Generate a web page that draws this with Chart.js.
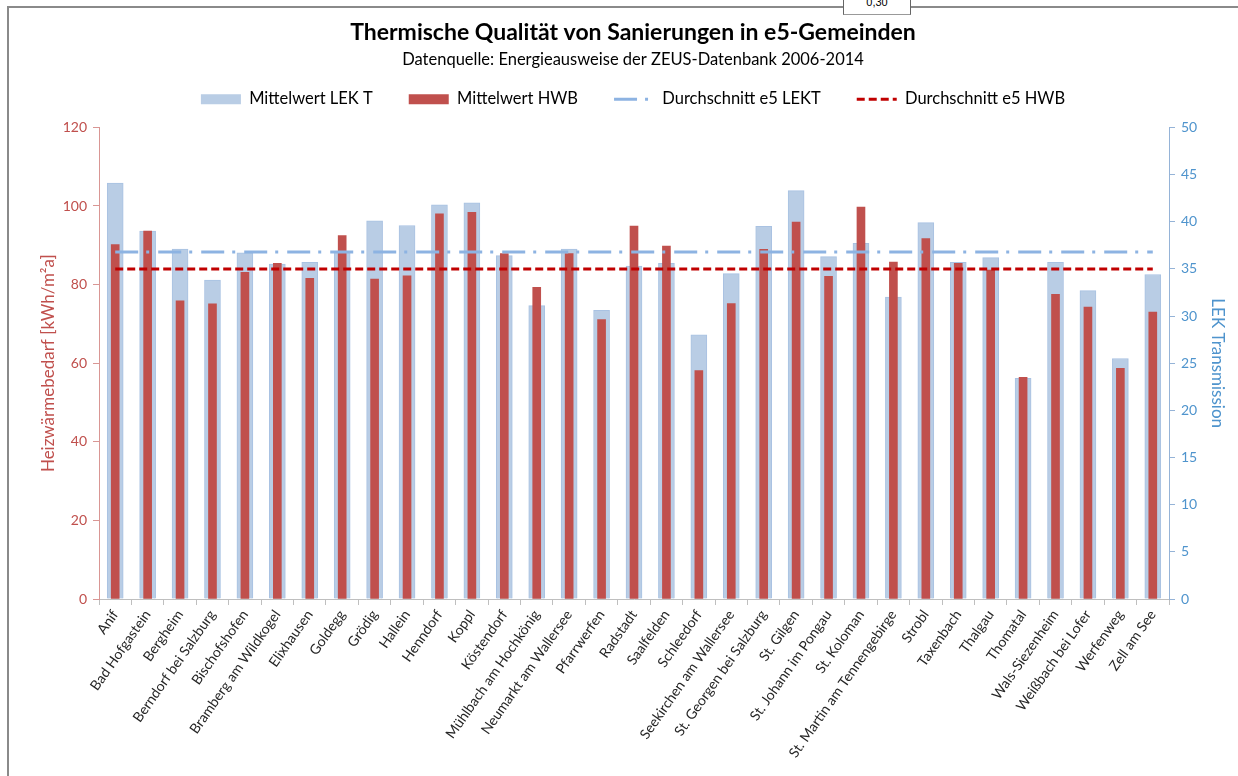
<!DOCTYPE html>
<html>
<head>
<meta charset="utf-8">
<script src="https://cdn.jsdelivr.net/npm/chart.js@4"></script>
<style>
    html, body { margin: 0; padding: 0; background: #fff; }
    #wrap { position: relative; width: 1238px; height: 776px; overflow: hidden; }
    #frame { position: absolute; left: 7px; top: 6px; right: -4px; bottom: -4px; border-left: 2px solid #8a8a8a; border-top: 2px solid #8a8a8a; }
    #cell { position: absolute; left: 843px; top: -2px; width: 66px; height: 16px; border-left: 1px solid #666; border-right: 1px solid #666; border-bottom: 1px solid #999; background: #fff;
            font: 11px 'Liberation Sans', sans-serif; color: #000; text-align: center; line-height: 8px; overflow: hidden; }
    canvas { position: absolute; left: 0; top: 0; }
</style>
</head>
<body>
<div id="wrap">
    <div id="frame"></div>
    <div id="cell">0,30</div>
    <canvas id="chart" width="1238" height="776"></canvas>
</div>
<script>
// Gemeinden (x-Achse)
const gemeinden = [
    'Anif', 'Bad Hofgastein', 'Bergheim', 'Berndorf bei Salzburg', 'Bischofshofen',
    'Bramberg am Wildkogel', 'Elixhausen', 'Goldegg', 'Grödig', 'Hallein', 'Henndorf',
    'Koppl', 'Köstendorf', 'Mühlbach am Hochkönig', 'Neumarkt am Wallersee', 'Pfarrwerfen',
    'Radstadt', 'Saalfelden', 'Schleedorf', 'Seekirchen am Wallersee', 'St. Georgen bei Salzburg',
    'St. Gilgen', 'St. Johann im Pongau', 'St. Koloman', 'St. Martin am Tennengebirge', 'Strobl',
    'Taxenbach', 'Thalgau', 'Thomatal', 'Wals-Siezenheim', 'Weißbach bei Lofer', 'Werfenweg', 'Zell am See'
];

// Mittelwert LEK T (rechte Achse)
const lekT = [
    44.1, 39.0, 37.1, 33.8, 36.7, 35.5, 35.7, 36.8, 40.1, 39.6, 41.8,
    42.0, 36.4, 31.1, 37.1, 30.6, 35.3, 35.6, 28.0, 34.5, 39.5,
    43.3, 36.3, 37.7, 32.0, 39.9, 35.7, 36.2, 23.4, 35.7, 32.7, 25.5, 34.4
];

// Mittelwert HWB (linke Achse, kWh/m²a)
const hwb = [
    90.2, 93.6, 75.9, 75.1, 83.1, 85.4, 81.6, 92.5, 81.4, 82.2, 98.0,
    98.4, 87.9, 79.3, 87.9, 71.1, 94.9, 89.8, 58.1, 75.2, 89.0,
    95.9, 82.1, 99.7, 85.7, 91.7, 85.4, 83.7, 56.4, 77.5, 74.3, 58.7, 73.0
];

// Durchschnittswerte e5
const avgLekT = 36.8;
const avgHwb = 84;

const leftTicks = { min: 0, max: 120, step: 20 };
const rightTicks = { min: 0, max: 50, step: 5 };

const FONT = 'Lato, "Open Sans", sans-serif';
const RED = '#c0504d';
const BLUE = '#4f94cd';

// etwas Abstand unter der Legende
const legendMargin = {
    id: 'legendMargin',
    beforeInit(chart) {
        const fit = chart.legend.fit;
        chart.legend.fit = function () {
            fit.call(this);
            this.height += 10;
        };
    }
};

const ctx = document.getElementById('chart').getContext('2d');

new Chart(ctx, {
    data: {
        labels: gemeinden,
        datasets: [
            {
                type: 'bar',
                label: 'Mittelwert LEK T',
                data: lekT,
                yAxisID: 'y1',
                backgroundColor: '#b9cde5',
                borderColor: '#a9c2e2',
                borderWidth: 1,
                barThickness: 16,
                grouped: false,
                order: 4
            },
            {
                type: 'bar',
                label: 'Mittelwert HWB',
                data: hwb,
                yAxisID: 'y',
                backgroundColor: RED,
                barThickness: 8,
                grouped: false,
                order: 3
            },
            {
                type: 'line',
                label: 'Durchschnitt e5 LEKT',
                data: gemeinden.map(() => avgLekT),
                yAxisID: 'y1',
                borderColor: '#8db3e2',
                borderWidth: 3,
                borderDash: [23, 8, 3, 9],
                pointRadius: 0,
                fill: false,
                order: 2
            },
            {
                type: 'line',
                label: 'Durchschnitt e5 HWB',
                data: gemeinden.map(() => avgHwb),
                yAxisID: 'y',
                borderColor: '#c00000',
                borderWidth: 3,
                borderDash: [8, 4],
                pointRadius: 0,
                fill: false,
                order: 1
            }
        ]
    },
    plugins: [legendMargin],
    options: {
        responsive: false,
        animation: false,
        layout: { padding: { left: 38, right: 10, top: 0, bottom: 0 } },
        plugins: {
            title: {
                display: true,
                text: 'Thermische Qualität von Sanierungen in e5-Gemeinden',
                color: '#000',
                font: { family: FONT, size: 23, weight: 'bold' },
                padding: { top: 19, bottom: 3.5 }
            },
            subtitle: {
                display: true,
                text: 'Datenquelle: Energieausweise der ZEUS-Datenbank 2006-2014',
                color: '#000',
                font: { family: FONT, size: 16.5 },
                padding: { top: 0, bottom: -15 }
            },
            legend: {
                position: 'top',
                labels: {
                    usePointStyle: true,
                    pointStyleWidth: 40,
                    boxWidth: 40,
                    boxHeight: 10,
                    padding: 36,
                    color: '#000',
                    font: { family: FONT, size: 16.5 },
                    generateLabels: chart => chart.data.datasets.map((ds, i) => ({
                        text: ds.label,
                        fillStyle: ds.backgroundColor || 'transparent',
                        strokeStyle: ds.borderColor,
                        lineWidth: ds.type === 'line' ? 3 : 0,
                        lineDash: ds.borderDash || [],
                        pointStyle: ds.type === 'line' ? 'line' : 'rect',
                        fontColor: '#000',
                        hidden: false,
                        datasetIndex: i
                    }))
                }
            },
            tooltip: { enabled: false }
        },
        scales: {
            x: {
                offset: true,
                grid: { offset: true, drawOnChartArea: false, drawTicks: true, tickLength: 6, color: '#bfbfbf' },
                border: { color: '#bfbfbf' },
                ticks: {
                    autoSkip: false,
                    maxRotation: 55,
                    minRotation: 55,
                    color: '#262626',
                    font: { family: FONT, size: 14 },
                    padding: 2
                },
                afterFit: scale => { scale.height = 177; }
            },
            y: {
                position: 'left',
                min: leftTicks.min,
                max: leftTicks.max,
                ticks: { stepSize: leftTicks.step, color: RED, font: { family: FONT, size: 14 }, padding: 6 },
                grid: { drawOnChartArea: false, drawTicks: true, tickLength: 6, color: '#d99694' },
                border: { color: '#d99694' },
                title: {
                    display: true,
                    text: 'Heizwärmebedarf [kWh/m²a]',
                    color: RED,
                    font: { family: FONT, size: 17 },
                    padding: { top: 0, bottom: 4 }
                },
                afterFit: scale => { scale.width = 61; }
            },
            y1: {
                position: 'right',
                min: rightTicks.min,
                max: rightTicks.max,
                ticks: { stepSize: rightTicks.step, color: BLUE, font: { family: FONT, size: 14 }, padding: 6 },
                grid: { drawOnChartArea: false, drawTicks: true, tickLength: 6, color: '#95b3d7' },
                border: { color: '#95b3d7' },
                title: {
                    display: true,
                    text: 'LEK Transmission',
                    color: BLUE,
                    font: { family: FONT, size: 17 },
                    padding: { top: 0, bottom: 0 }
                },
                afterFit: scale => { scale.width = 59; }
            }
        }
    }
});
</script>
</body>
</html>
